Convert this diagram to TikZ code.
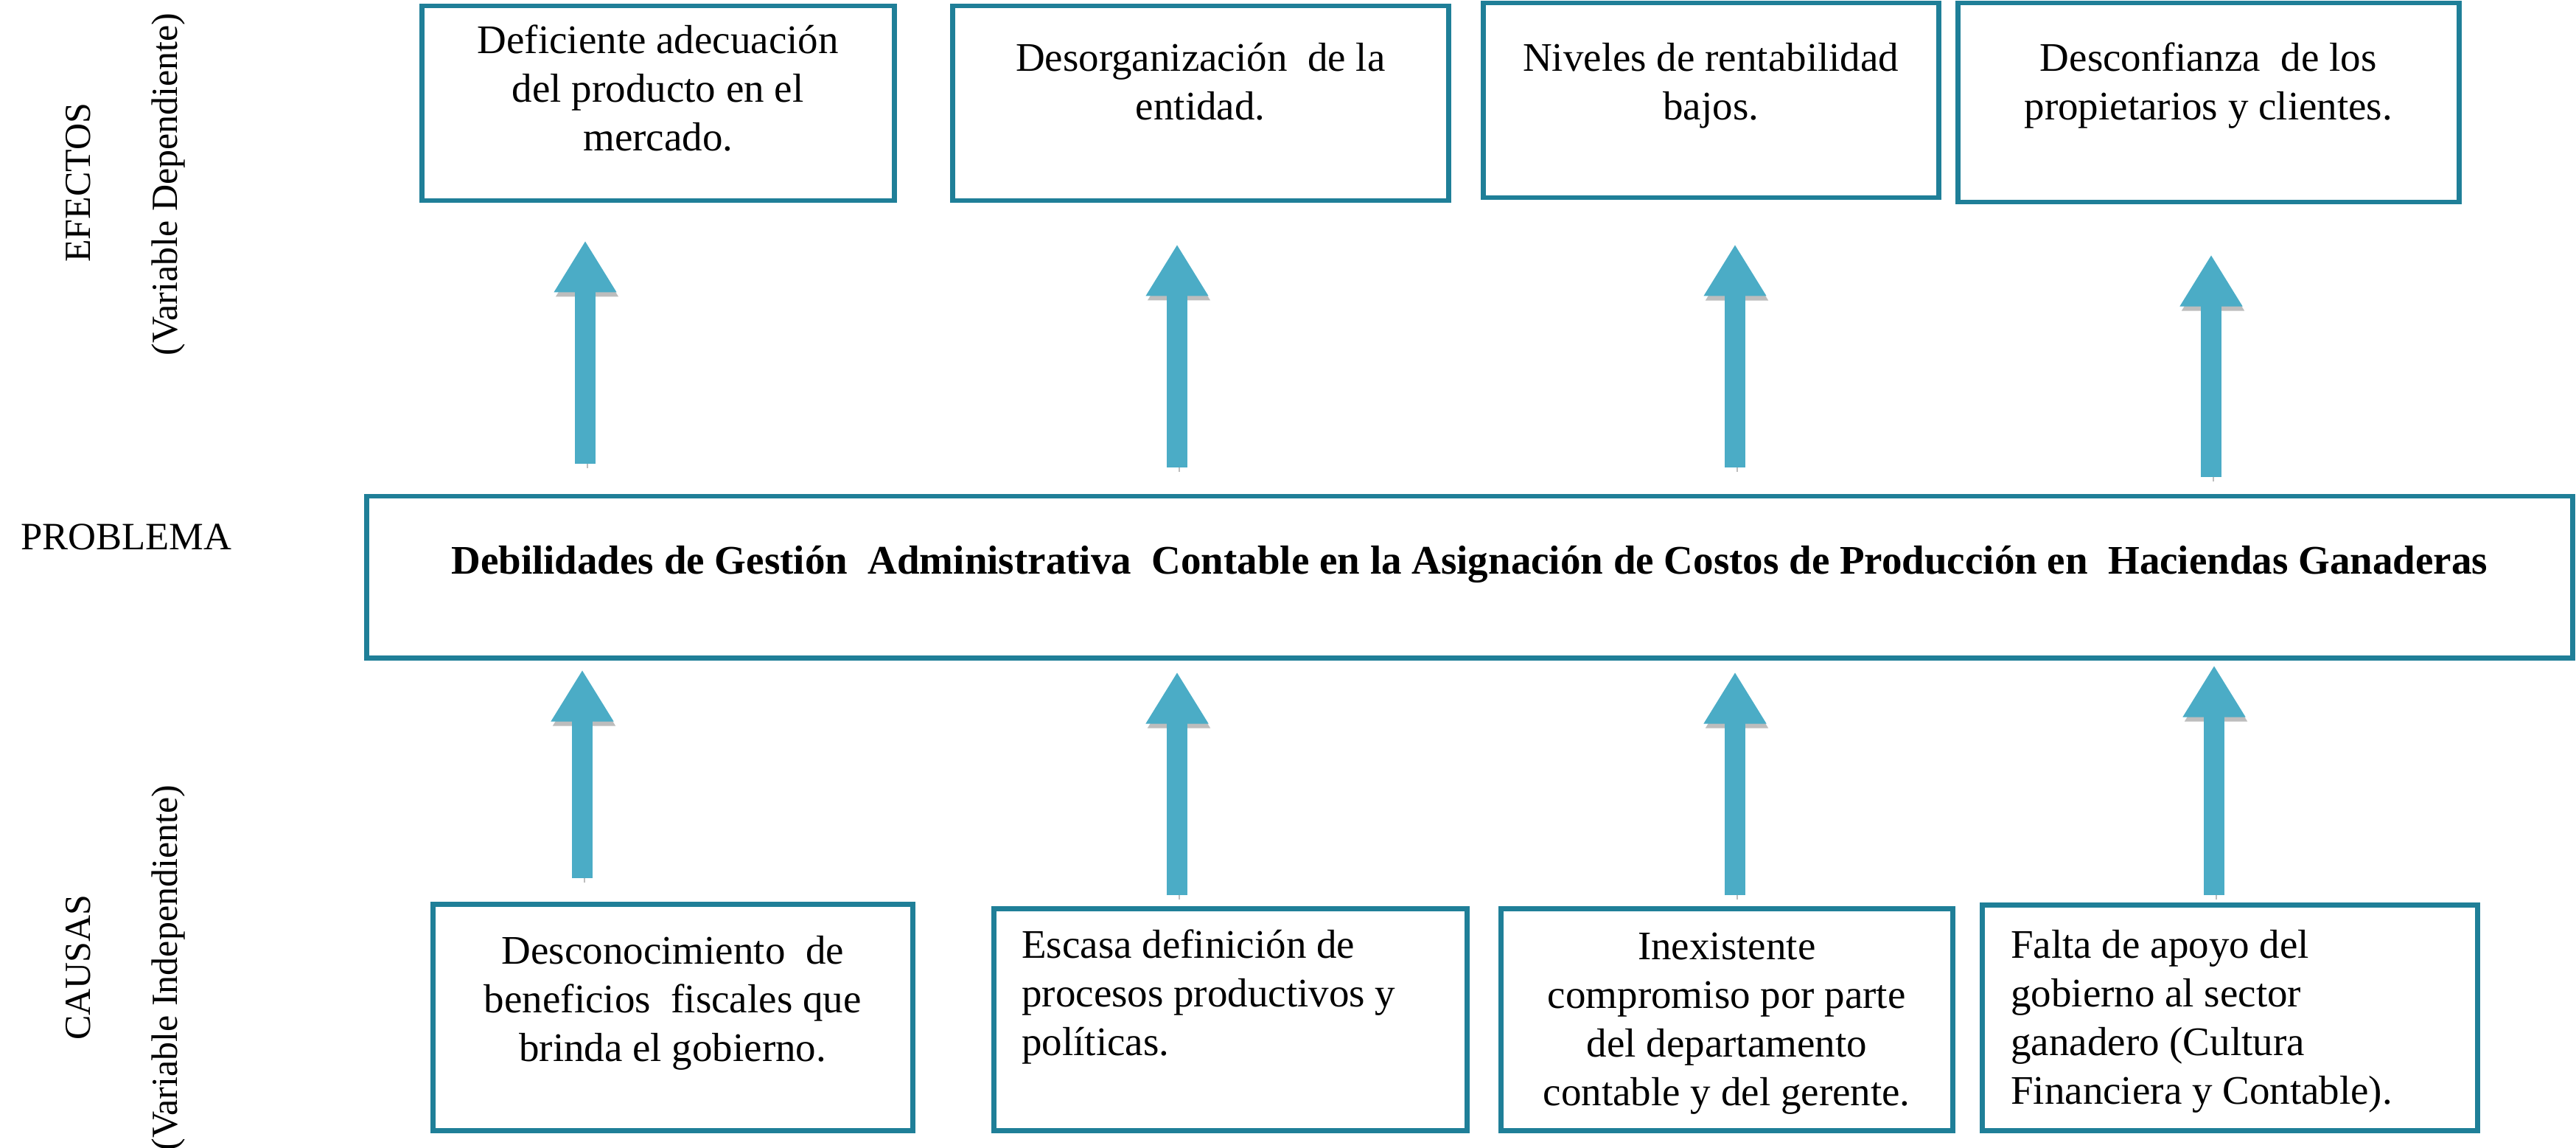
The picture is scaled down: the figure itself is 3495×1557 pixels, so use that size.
\documentclass[tikz,border=0pt]{standalone}
\usepackage{fontspec}
\setmainfont{Liberation Serif}
\usetikzlibrary{arrows.meta}
\definecolor{boxline}{HTML}{1F7F98}
\definecolor{arrowfill}{HTML}{4BACC6}
\definecolor{arrowshadow}{HTML}{BDBDBD}
\tikzset{
  box/.style={draw=boxline, line width=1.3pt, inner sep=0pt, anchor=north west,
    font=\fontsize{11}{13.2}\selectfont},
  bigarrow/.style={line width=5.6pt, draw=arrowfill,
    -{Triangle[width=16pt,length=14pt]},
    preaction={draw=arrowshadow, transform canvas={xshift=0.5pt,yshift=-1.2pt}}},
  sidelabel/.style={rotate=90, inner sep=0pt, font=\fontsize{10}{12}\selectfont},
}
\begin{document}
\begin{tikzpicture}[x=0.2pt,y=-0.2pt]
\useasboundingbox (0,0) rectangle (3495,1557);
% effects
\node[box] (e1) at (569,5) {\parbox[c][52.8pt][t]{128.2pt}{\centering\vspace*{3.56pt}\strut Deficiente adecuación\\del producto en el\\mercado.}};
\node[box] (e2) at (1289,5) {\parbox[c][52.8pt][t]{134.6pt}{\centering\vspace*{8.36pt}\strut Desorganización\ \ de la\\entidad.}};
\node[box] (e3) at (2009,1) {\parbox[c][52.8pt][t]{123.6pt}{\centering\vspace*{9.16pt}\strut Niveles de rentabilidad\\bajos.}};
\node[box] (e4) at (2653,1) {\parbox[c][54pt][t]{136pt}{\centering\vspace*{9.16pt}\strut Desconfianza\ \ de los\\propietarios y clientes.}};
% problem
\node[box] (prob) at (494,670) {\parbox[c][43.8pt][t]{598.6pt}{\centering\vspace*{11.76pt}\strut\makebox[\linewidth]{\bfseries Debilidades de Gestión\ \ Administrativa\ \ Contable en la Asignación de Costos de Producción en\ \ Haciendas Ganaderas}}};
% causes
\node[box] (c1) at (584,1223) {\parbox[c][61.4pt][t]{130.2pt}{\centering\vspace*{6.96pt}\strut Desconocimiento\ \ de\\beneficios\ \ fiscales que\\brinda el gobierno.}};
\node[box] (c2) at (1345,1229) {\parbox[c][60.2pt][t]{128.4pt}{\raggedright\leftskip=7.6pt\vspace*{4.16pt}\strut Escasa definición de\\procesos productivos y\\políticas.}};
\node[box] (c3) at (2033,1229) {\parbox[c][60.2pt][t]{122.6pt}{\centering\vspace*{4.56pt}\strut Inexistente\\compromiso por parte\\del departamento\\contable y del gerente.}};
\node[box] (c4) at (2686,1224) {\parbox[c][61.2pt][t]{134.4pt}{\raggedright\leftskip=7.8pt\vspace*{5.16pt}\strut Falta de apoyo del\\gobierno al sector\\ganadero (Cultura\\Financiera y Contable).}};
% side labels
\node[sidelabel] (lblE) at (106,248) {EFECTOS};
\node[sidelabel] (lblVD) at (228,250) {(Variable Dependiente)};
\node[inner sep=0pt, font=\fontsize{10.5}{12}\selectfont] (lblP) at (171,728) {PROBLEMA};
\node[sidelabel] (lblC) at (106,1312) {CAUSAS};
\node[sidelabel, anchor=east] (lblVI) at (228,1064) {(Variable Independiente)};
% arrow x positions
\coordinate (xa1) at (794,0);
\coordinate (xa2) at (1597,0);
\coordinate (xa3) at (2354,0);
\coordinate (xa4) at (3000,0);
\coordinate (xb1) at (790,0);
\coordinate (xb2) at (1597,0);
\coordinate (xb3) at (2354,0);
\coordinate (xb4) at (3004,0);
% arrows problem -> effects
\draw[bigarrow, shorten <=8.2pt, shorten >=10.2pt] (prob.north -| xa1) -- (e1.south -| xa1);
\draw[bigarrow, shorten <=7.2pt, shorten >=11.2pt] (prob.north -| xa2) -- (e2.south -| xa2);
\draw[bigarrow, shorten <=7.2pt, shorten >=12pt] (prob.north -| xa3) -- (e3.south -| xa3);
\draw[bigarrow, shorten <=4.6pt, shorten >=13.6pt] (prob.north -| xa4) -- (e4.south -| xa4);
% arrows causes -> problem
\draw[bigarrow, shorten <=6.4pt, shorten >=2.6pt] (c1.north -| xb1) -- (prob.south -| xb1);
\draw[bigarrow, shorten <=3pt, shorten >=3.2pt] (c2.north -| xb2) -- (prob.south -| xb2);
\draw[bigarrow, shorten <=3pt, shorten >=3.2pt] (c3.north -| xb3) -- (prob.south -| xb3);
\draw[bigarrow, shorten <=2pt, shorten >=1.4pt] (c4.north -| xb4) -- (prob.south -| xb4);
\end{tikzpicture}
\end{document}
